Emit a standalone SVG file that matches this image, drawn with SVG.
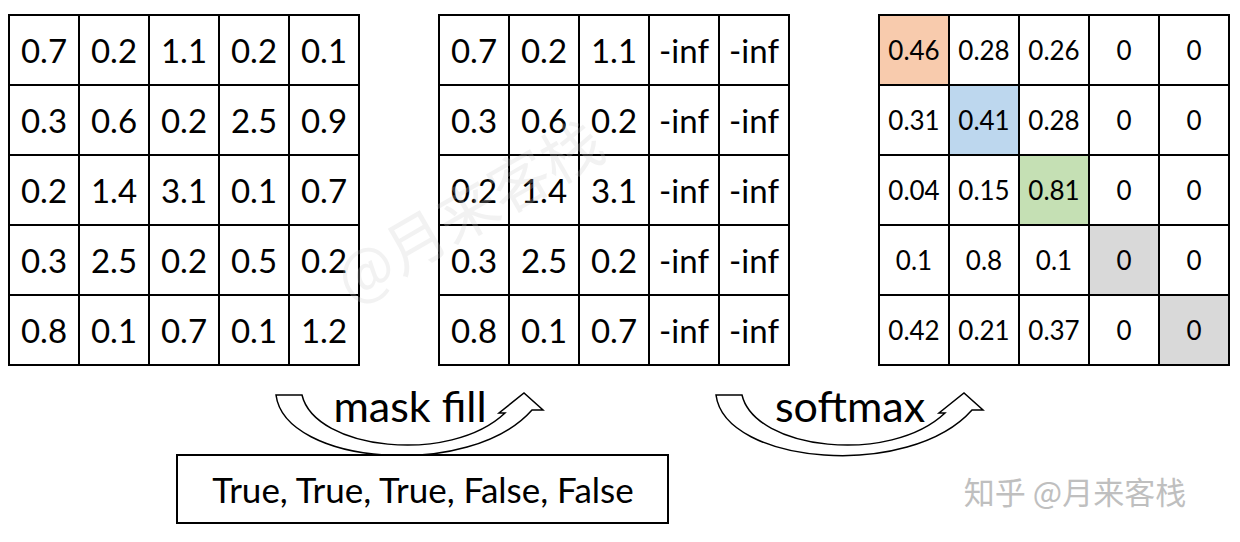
<svg xmlns="http://www.w3.org/2000/svg" width="1240" height="542" viewBox="0 0 1240 542">
<style>
.c{fill:#fff;stroke:#000;stroke-width:2}
.t{font-family:Lato,"Liberation Sans",sans-serif;font-size:33px;text-anchor:middle;dominant-baseline:central;fill:#000}
.s{font-size:26px}
.a{fill:#fff;stroke:#000;stroke-width:1.5}
</style>
<rect width="1240" height="542" fill="#fff"/>
<g id="m1">
<rect class="c" x="9" y="15" width="350" height="350"/>
<path d="M79,15V365M149,15V365M219,15V365M289,15V365M9,85H359M9,155H359M9,225H359M9,295H359" stroke="#000" stroke-width="2"/>
<g class="t">
<text x="44" y="50">0.7</text><text x="114" y="50">0.2</text><text x="184" y="50">1.1</text><text x="254" y="50">0.2</text><text x="324" y="50">0.1</text>
<text x="44" y="120">0.3</text><text x="114" y="120">0.6</text><text x="184" y="120">0.2</text><text x="254" y="120">2.5</text><text x="324" y="120">0.9</text>
<text x="44" y="190">0.2</text><text x="114" y="190">1.4</text><text x="184" y="190">3.1</text><text x="254" y="190">0.1</text><text x="324" y="190">0.7</text>
<text x="44" y="260">0.3</text><text x="114" y="260">2.5</text><text x="184" y="260">0.2</text><text x="254" y="260">0.5</text><text x="324" y="260">0.2</text>
<text x="44" y="330">0.8</text><text x="114" y="330">0.1</text><text x="184" y="330">0.7</text><text x="254" y="330">0.1</text><text x="324" y="330">1.2</text>
</g>
</g>
<g id="m2">
<rect class="c" x="439" y="15" width="350" height="350"/>
<path d="M509,15V365M579,15V365M649,15V365M719,15V365M439,85H789M439,155H789M439,225H789M439,295H789" stroke="#000" stroke-width="2"/>
<g class="t">
<text x="474" y="50">0.7</text><text x="544" y="50">0.2</text><text x="614" y="50">1.1</text><text x="684" y="50">-inf</text><text x="754" y="50">-inf</text>
<text x="474" y="120">0.3</text><text x="544" y="120">0.6</text><text x="614" y="120">0.2</text><text x="684" y="120">-inf</text><text x="754" y="120">-inf</text>
<text x="474" y="190">0.2</text><text x="544" y="190">1.4</text><text x="614" y="190">3.1</text><text x="684" y="190">-inf</text><text x="754" y="190">-inf</text>
<text x="474" y="260">0.3</text><text x="544" y="260">2.5</text><text x="614" y="260">0.2</text><text x="684" y="260">-inf</text><text x="754" y="260">-inf</text>
<text x="474" y="330">0.8</text><text x="544" y="330">0.1</text><text x="614" y="330">0.7</text><text x="684" y="330">-inf</text><text x="754" y="330">-inf</text>
</g>
</g>
<g id="m3">
<rect class="c" x="879" y="15" width="350" height="350"/>
<rect x="879" y="15" width="70" height="70" fill="#f8cbad"/>
<rect x="949" y="85" width="70" height="70" fill="#bdd7ee"/>
<rect x="1019" y="155" width="70" height="70" fill="#c5e0b4"/>
<rect x="1089" y="225" width="70" height="70" fill="#d9d9d9"/>
<rect x="1159" y="295" width="70" height="70" fill="#d9d9d9"/>
<rect x="879" y="15" width="350" height="350" fill="none" stroke="#000" stroke-width="2"/>
<path d="M949,15V365M1019,15V365M1089,15V365M1159,15V365M879,85H1229M879,155H1229M879,225H1229M879,295H1229" stroke="#000" stroke-width="2"/>
<g class="t s">
<text x="914" y="50">0.46</text><text x="984" y="50">0.28</text><text x="1054" y="50">0.26</text><text x="1124" y="50">0</text><text x="1194" y="50">0</text>
<text x="914" y="120">0.31</text><text x="984" y="120">0.41</text><text x="1054" y="120">0.28</text><text x="1124" y="120">0</text><text x="1194" y="120">0</text>
<text x="914" y="190">0.04</text><text x="984" y="190">0.15</text><text x="1054" y="190">0.81</text><text x="1124" y="190">0</text><text x="1194" y="190">0</text>
<text x="914" y="260">0.1</text><text x="984" y="260">0.8</text><text x="1054" y="260">0.1</text><text x="1124" y="260">0</text><text x="1194" y="260">0</text>
<text x="914" y="330">0.42</text><text x="984" y="330">0.21</text><text x="1054" y="330">0.37</text><text x="1124" y="330">0</text><text x="1194" y="330">0</text>
</g>
</g>
<g id="connectors">
<path class="a" d="M276,395 H302 C315,450 450,465 505,413 L499,413 L524,393 L543,410 L532,410 C470,480 285,465 276,395 Z"/>
<path class="a" d="M716,395 H742 C755,450 890,465 945,413 L939,413 L964,393 L983,410 L972,410 C910,480 725,465 716,395 Z"/>
</g>
<g id="labels">
<text class="t" x="410" y="405" style="font-size:43px">mask fill</text>
<text class="t" x="850" y="405" style="font-size:43px">softmax</text>
</g>
<g id="mask">
<rect x="177" y="455" width="491" height="68" fill="#fff" stroke="#000" stroke-width="2"/>
<text class="t" x="423" y="489" style="font-size:35px">True, True, True, False, False</text>
</g>
<text x="1075" y="504" text-anchor="middle" font-family="Noto Sans CJK SC,sans-serif" font-size="31" fill="#b0b0b0" opacity="0.8">知乎 @月来客栈</text>
<text x="480" y="230" text-anchor="middle" font-family="Noto Sans CJK SC,sans-serif" font-size="60" fill="#ccc" opacity="0.25" transform="rotate(-30 480 230)">@月来客栈</text>
</svg>
